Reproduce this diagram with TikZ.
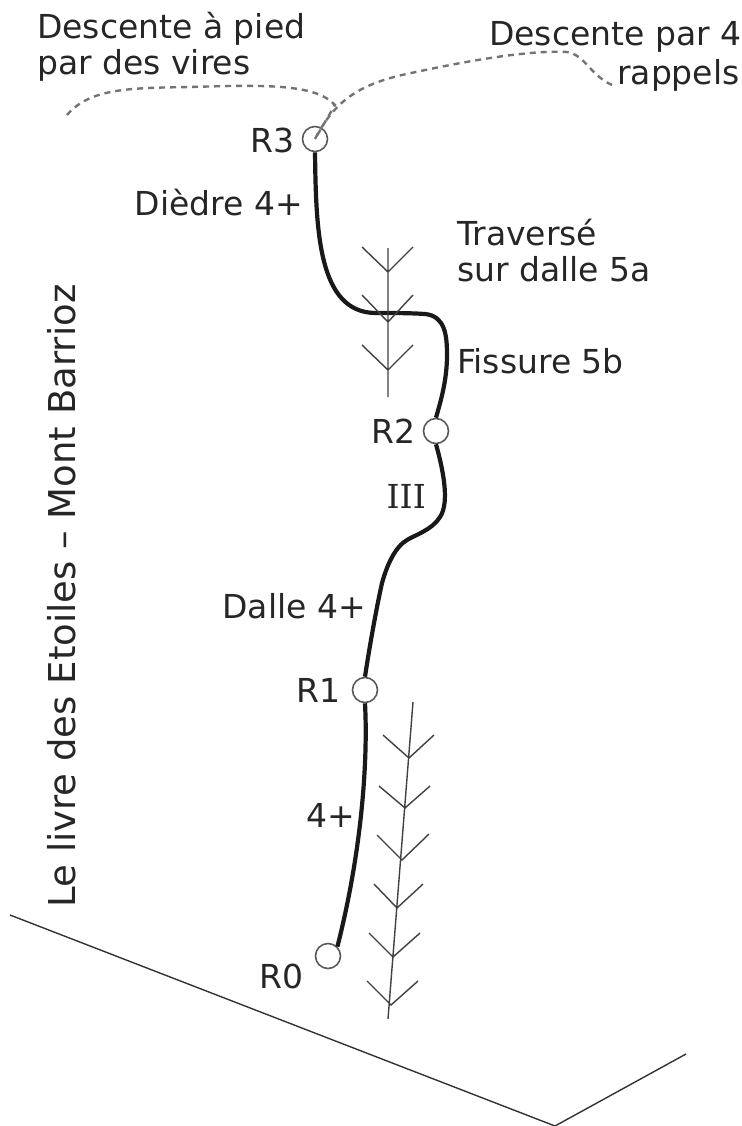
\documentclass[tikz,border=0pt]{standalone}
\usepackage{fontspec}
\setmainfont{DejaVu Sans}
\newfontfamily\barfont{DejaVu Serif}
\begin{document}
\begin{tikzpicture}[
        x=1pt, y=-1pt,
        relay/.style={draw=black!65, circle, line width=1.6pt, inner sep=0pt, minimum size=25pt},
        label/.style={text=black!85, inner sep=0pt, align=left, font=\fontsize{33}{36}\selectfont},
        route/.style={line width=4.2pt, black!90},
        descent/.style={line width=2.4pt, black!55, dash pattern=on 6pt off 5pt},
        tree/.style={line width=1.4pt, black!75},
        ground/.style={line width=1.4pt, black!80}
    ]
        \useasboundingbox (0,0) rectangle (741,1126);

        \node[relay] (r3) at (315, 139) {};
        \node[relay] (r2) at (436, 431) {};
        \node[relay] (r1) at (365, 690) {};
        \node[relay] (r0) at (328, 956) {};

        \node[label, anchor=east] (r3label) at (295, 140) {R3};
        \node[label, anchor=east] (r2label) at (416, 431) {R2};
        \node[label, anchor=east] (r1label) at (341, 690) {R1};
        \node[label, anchor=east] (r0label) at (304, 976) {R0};
        \node[label, anchor=west] (pied) at (37, 47) {Descente à pied\\par des vires};
        \node[label, anchor=west] (rappels1) at (489, 37) {Descente par 4};
        \node[label, anchor=west] (rappels2) at (617, 75) {rappels};
        \node[label, anchor=east] (diedre) at (303, 203) {Dièdre 4+};
        \node[label, anchor=west] (traverse) at (457, 251) {Traversé\\sur dalle 5a};
        \node[label, anchor=west] (fissure) at (457, 361) {Fissure 5b};
        \node[label, anchor=east, font=\fontsize{33}{36}\selectfont\barfont] (three) at (426, 496) {III};
        \node[label, anchor=east] (dalle) at (366, 606) {Dalle 4+};
        \node[label, anchor=east] (quatre) at (355, 815) {4+};
        \node[label, rotate=90, font=\fontsize{37}{40}\selectfont] (title) at (62, 596) {Le livre des Etoiles -- Mont Barrioz};

        \coordinate (groundleft) at (10, 915);
        \coordinate (groundlow) at (555, 1126);
        \coordinate (groundright) at (686, 1054);
        \draw[ground] (groundleft) -- (groundlow) -- (groundright);

        \draw[route] (r3.south) .. controls (316, 230) and (318, 312) .. (375, 313)
            .. controls (395, 313) and (410, 313) .. (425, 314)
            .. controls (445, 316) and (447, 335) .. (447, 355)
            .. controls (447, 380) and (441, 400) .. (r2.north);
        \draw[route] (r2.south) .. controls (446, 480) and (448, 505) .. (440, 517)
            .. controls (432, 530) and (415, 535) .. (407, 540)
            .. controls (395, 547) and (387, 565) .. (382, 583)
            .. controls (376, 610) and (369, 650) .. (r1.north);
        \draw[route] (r1.south) .. controls (368, 760) and (362, 850) .. (r0.north east);

        \coordinate (pathend) at (67, 115);
        \coordinate (pathfork) at (335, 105);
        \coordinate (rapend) at (612, 85);
        \draw[descent] (pathend) .. controls (90, 88) and (130, 88) .. (190, 87)
            .. controls (260, 85) and (315, 83) .. (pathfork) -- (r3.center);
        \draw[descent] (r3.center) .. controls (335, 100) and (360, 85) .. (402, 75)
            .. controls (470, 60) and (530, 50) .. (567, 52)
            .. controls (585, 55) and (590, 75) .. (rapend);

        \draw[tree] (388, 248) -- (388, 397)
            (362, 247) -- (388, 272) -- (413, 247)
            (362, 295) -- (388, 322) -- (413, 295)
            (362, 345) -- (388, 370) -- (413, 345);
        \draw[tree] (413, 702) -- (388, 1019)
            (383, 735) -- (409, 758) -- (434, 735)
            (379, 786) -- (405, 808) -- (430, 786)
            (377, 835) -- (402, 860) -- (429, 834)
            (374, 884) -- (397, 908) -- (423, 884)
            (369, 933) -- (393, 957) -- (420, 933)
            (367, 981) -- (391, 1005) -- (418, 981);
    \end{tikzpicture}
\end{document}
